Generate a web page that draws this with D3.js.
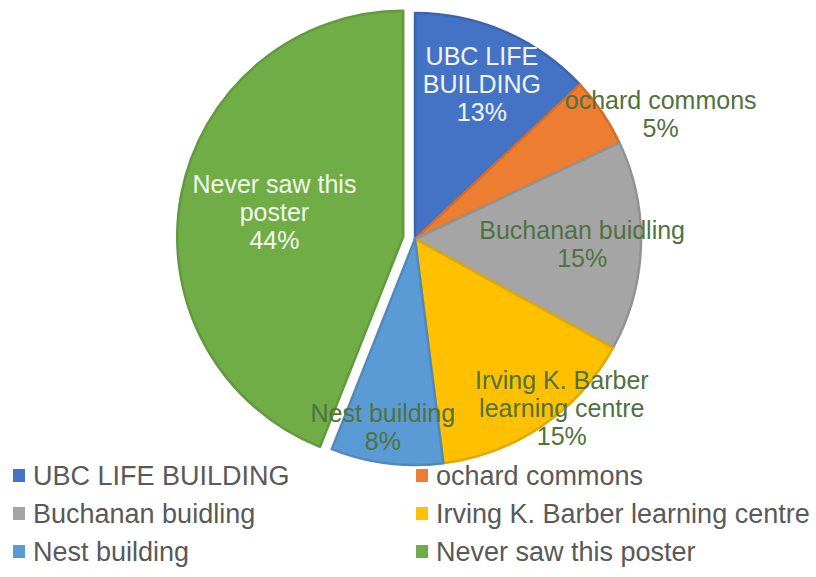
<html lang="en">
<head>
  <meta charset="UTF-8"/>
  <script src="https://d3js.org/d3.v7.min.js"></script>
  <style>
body {
  margin: 0;
  background: #fff;
  font-family: 'Liberation Sans', Arial, sans-serif;
}

svg {
  width: 816px;
  height: 577px;
  display: block;
}

text.label {
  font-size: 25px;
}

text.legend {
  font-size: 27px;
  fill: #595959;
}
</style>
</head>
<body>
  <svg></svg>

<script>

  // data
  const categories = ['UBC LIFE BUILDING', 'ochard commons', 'Buchanan buidling',
    'Irving K. Barber learning centre', 'Nest building', 'Never saw this poster'];
  const values = [13, 5, 15, 15, 8, 44];
  // how the data labels wrap inside the chart
  const labelLines = [['UBC LIFE', 'BUILDING'], ['ochard commons'], ['Buchanan buidling'],
    ['Irving K. Barber', 'learning centre'], ['Nest building'], ['Never saw this', 'poster']];

  const colors = ['#4472C4', '#ED7D31', '#A5A5A5', '#FFC000', '#5B9BD5', '#70AD47'];
  const labelColors = ['#f1f4fb', '#4f7240', '#4f7240', '#4f7240', '#4f7240', '#f2f8ec'];

  // label placement: radius as fraction of pie radius, angle nudge in degrees (Excel best fit)
  const labelRadius = [0.745, 1.22, 0.74, 0.99, 0.845, 0.58];
  const labelNudge = [0, 7.2, 0, -6.8, 2.5, 0];
  const explode = [0, 0, 0, 0, 0, 12];

  const svg = d3.select('svg');

  const cx = 415, cy = 239, R = 226;

  const pie = d3.pie().sort(null).value(d => d);
  const arcs = pie(values);

  const arc = d3.arc().innerRadius(0).outerRadius(R);

  const chart = svg.append('g')
    .attr('transform', `translate(${cx},${cy})`);

  function shift(d, i) {
    const mid = (d.startAngle + d.endAngle) / 2;
    const [ox, oy] = d3.pointRadial(mid, explode[i]);
    return `translate(${ox},${oy})`;
  }

  chart.append('g').selectAll('path')
    .data(arcs)
    .enter().append('path')
    .attr('transform', shift)
    .attr('d', arc)
    .attr('fill', (d, i) => colors[i])
    .attr('stroke', (d, i) => d3.color(colors[i]).darker(0.35))
    .attr('stroke-width', 2.5)
    .attr('stroke-linejoin', 'round');

  // data labels, on top of every slice
  const labels = chart.append('g').selectAll('text')
    .data(arcs)
    .enter().append('text')
    .attr('class', 'label')
    .attr('transform', shift)
    .attr('text-anchor', 'middle')
    .attr('fill', (d, i) => labelColors[i]);

  labels.each(function(d, i) {
    const mid = (d.startAngle + d.endAngle) / 2 + labelNudge[i] * Math.PI / 180;
    const [lx, ly] = d3.pointRadial(mid, labelRadius[i] * R);
    const lines = labelLines[i].concat([values[i] + '%']);
    const lh = 28;
    lines.forEach((s, k) => {
      d3.select(this).append('tspan')
        .attr('x', lx)
        .attr('y', ly + (k - (lines.length - 1) / 2) * lh)
        .attr('dy', '0.35em')
        .text(s);
    });
  });

  // legend
  const colX = [13, 416];
  const rowY = d3.scalePoint().domain([0, 1, 2]).range([476, 552]);

  const items = svg.append('g').selectAll('g.item')
    .data(categories)
    .enter().append('g')
    .attr('class', 'item')
    .attr('transform', (d, i) => `translate(${colX[i % 2]},${rowY(Math.floor(i / 2))})`);

  items.append('rect')
    .attr('x', 0)
    .attr('y', -7)
    .attr('width', 12)
    .attr('height', 13)
    .attr('fill', (d, i) => colors[i]);

  items.append('text')
    .attr('class', 'legend')
    .attr('x', 20)
    .attr('dy', '0.35em')
    .text(d => d);

</script>
</body>
</html>
